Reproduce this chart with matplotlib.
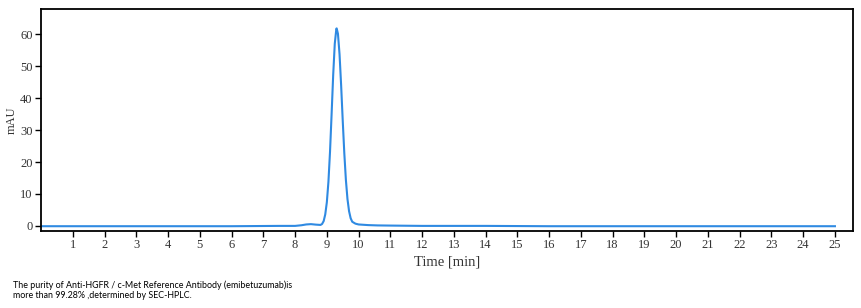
import matplotlib
matplotlib.use("Agg")
import matplotlib.pyplot as plt

# SEC-HPLC trace (time in min, signal in mAU)
time_min = [0.0, 2.0, 4.0, 6.0, 7.5, 8.0, 8.2, 8.35, 8.5, 8.65, 8.8, 8.85, 8.9,
            8.95, 9.0, 9.05, 9.1, 9.15, 9.2, 9.25, 9.3, 9.31, 9.35, 9.4, 9.45,
            9.5, 9.55, 9.6, 9.65, 9.7, 9.75, 9.8, 9.9, 10.0, 10.3, 10.6, 11.0,
            12.0, 14.0, 16.0, 18.0, 20.0, 22.0, 24.0, 25.0]
mau = [-0.1, -0.1, -0.1, -0.1, 0.0, 0.0, 0.2, 0.45, 0.55, 0.4, 0.3, 0.6, 1.5,
       3.6, 7.4, 13.8, 23.2, 35.0, 47.3, 57.1, 61.8, 61.9, 60.2, 53.8, 44.1,
       33.1, 22.8, 14.4, 8.4, 4.6, 2.4, 1.3, 0.7, 0.45, 0.25, 0.15, 0.1,
       0.0, 0.0, -0.1, -0.1, -0.1, -0.1, -0.1, -0.1]

xticks = list(range(1, 26))
yticks = [0, 10, 20, 30, 40, 50, 60]

caption = ("The purity of Anti-HGFR / c-Met Reference Antibody (emibetuzumab)is\n"
           "more than 99.28% ,determined by SEC-HPLC.")

fig = plt.figure(figsize=(8.62, 3.08), dpi=100)
ax = fig.add_axes([0.0476, 0.25, 0.942, 0.721])

ax.plot(time_min, mau, color="#2f8ae2", linewidth=1.5)

ax.set_xlim(0, 25.57)
ax.set_ylim(-1.6, 68)
ax.set_xticks(xticks)
ax.set_yticks(yticks)
for s in ax.spines.values():
    s.set_linewidth(1.3)
    s.set_color("black")
ax.tick_params(direction="out", length=4, width=1.0, labelsize=9, pad=2)
for lab in ax.get_xticklabels() + ax.get_yticklabels():
    lab.set_family("Liberation Serif")
    lab.set_color("#333333")

ax.set_xlabel("Time [min]", family="Liberation Serif", fontsize=10.5, color="#333333", labelpad=3)
ax.set_ylabel("mAU", family="Liberation Serif", fontsize=9, color="#333333", labelpad=2)

fig.text(0.015, 0.025, caption, family="Lato", fontsize=6.4, color="black",
         ha="left", va="bottom", linespacing=1.2)

fig.savefig("out.png", dpi=100)
